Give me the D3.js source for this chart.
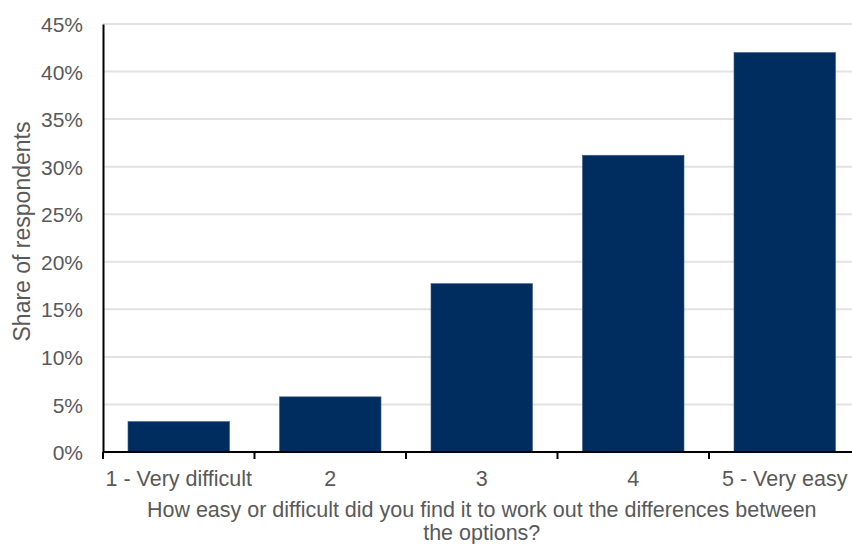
<!DOCTYPE html>
<html>
<head>
<meta charset="utf-8">
<script src="https://cdn.jsdelivr.net/npm/d3@7"></script>
<style>
  html, body { margin: 0; padding: 0; background: #fff; }
  svg { display: block; font-family: "Liberation Sans", Arial, sans-serif; }
</style>
</head>
<body>
<svg id="chart" width="852" height="544"></svg>
<script>
// Survey responses: ease of working out differences between options
const categories = ["1 - Very difficult", "2", "3", "4", "5 - Very easy"];
const shares = [3.2, 5.8, 17.7, 31.2, 42.0];
const yTicks = [0, 5, 10, 15, 20, 25, 30, 35, 40, 45];

const svg = d3.select("#chart");
const margin = { left: 103, top: 24, bottom: 92 };
const plotRight = 860.5;
const plotBottom = 544 - margin.bottom;
const textColor = "#595959";

const x = d3.scaleBand()
  .domain(categories)
  .range([margin.left, plotRight])
  .paddingInner(0.33)
  .paddingOuter(0.165);

const y = d3.scaleLinear()
  .domain([0, 45])
  .range([plotBottom, margin.top]);

// horizontal gridlines
svg.append("g")
  .selectAll("line")
  .data(yTicks.filter(d => d > 0))
  .join("line")
  .attr("x1", margin.left)
  .attr("x2", plotRight)
  .attr("y1", d => y(d))
  .attr("y2", d => y(d))
  .attr("stroke", "#e2e2e2")
  .attr("stroke-width", 2);

// bars
svg.append("g")
  .selectAll("rect")
  .data(shares)
  .join("rect")
  .attr("x", (d, i) => x(categories[i]))
  .attr("width", x.bandwidth())
  .attr("y", d => y(d))
  .attr("height", d => y(0) - y(d))
  .attr("fill", "#002d5f")
  .attr("stroke", "#3d5f88")
  .attr("stroke-width", 0.6);

// y axis
const yAxis = svg.append("g")
  .attr("transform", `translate(${margin.left},0)`)
  .call(d3.axisLeft(y).tickValues(yTicks).tickFormat(d => d + "%").tickSize(0).tickPadding(20));
yAxis.select(".domain").attr("stroke", "#000").attr("stroke-width", 2);
yAxis.selectAll("text")
  .attr("fill", textColor)
  .attr("dy", "0.36em")
  .style("font-size", "21px")
  .style("font-family", "Liberation Sans, Arial, sans-serif");

// x axis with ticks on band boundaries
const xAxisG = svg.append("g")
  .attr("transform", `translate(0,${plotBottom})`);
xAxisG.append("line")
  .attr("x1", margin.left).attr("x2", plotRight)
  .attr("stroke", "#000").attr("stroke-width", 2);
const step = x.step();
const boundaries = d3.range(categories.length + 1).map(i => margin.left + i * step);
xAxisG.selectAll("line.tick")
  .data(boundaries)
  .join("line")
  .attr("class", "tick")
  .attr("x1", d => d).attr("x2", d => d)
  .attr("y1", 0).attr("y2", 7)
  .attr("stroke", "#000").attr("stroke-width", 2);
xAxisG.selectAll("text")
  .data(categories)
  .join("text")
  .attr("x", d => x(d) + x.bandwidth() / 2)
  .attr("y", 34)
  .attr("text-anchor", "middle")
  .attr("fill", textColor)
  .style("font-size", "21.5px")
  .text(d => d);

// axis titles
svg.append("text")
  .attr("transform", `translate(30,${(margin.top + plotBottom) / 2 - 6.5}) rotate(-90)`)
  .attr("text-anchor", "middle")
  .attr("fill", textColor)
  .style("font-size", "23px")
  .text("Share of respondents");

const xTitle = svg.append("text")
  .attr("text-anchor", "middle")
  .attr("fill", textColor)
  .style("font-size", "21.5px");
xTitle.append("tspan")
  .attr("x", (margin.left + plotRight) / 2)
  .attr("y", 517)
  .text("How easy or difficult did you find it to work out the differences between");
xTitle.append("tspan")
  .attr("x", (margin.left + plotRight) / 2)
  .attr("y", 540)
  .text("the options?");
</script>
</body>
</html>
